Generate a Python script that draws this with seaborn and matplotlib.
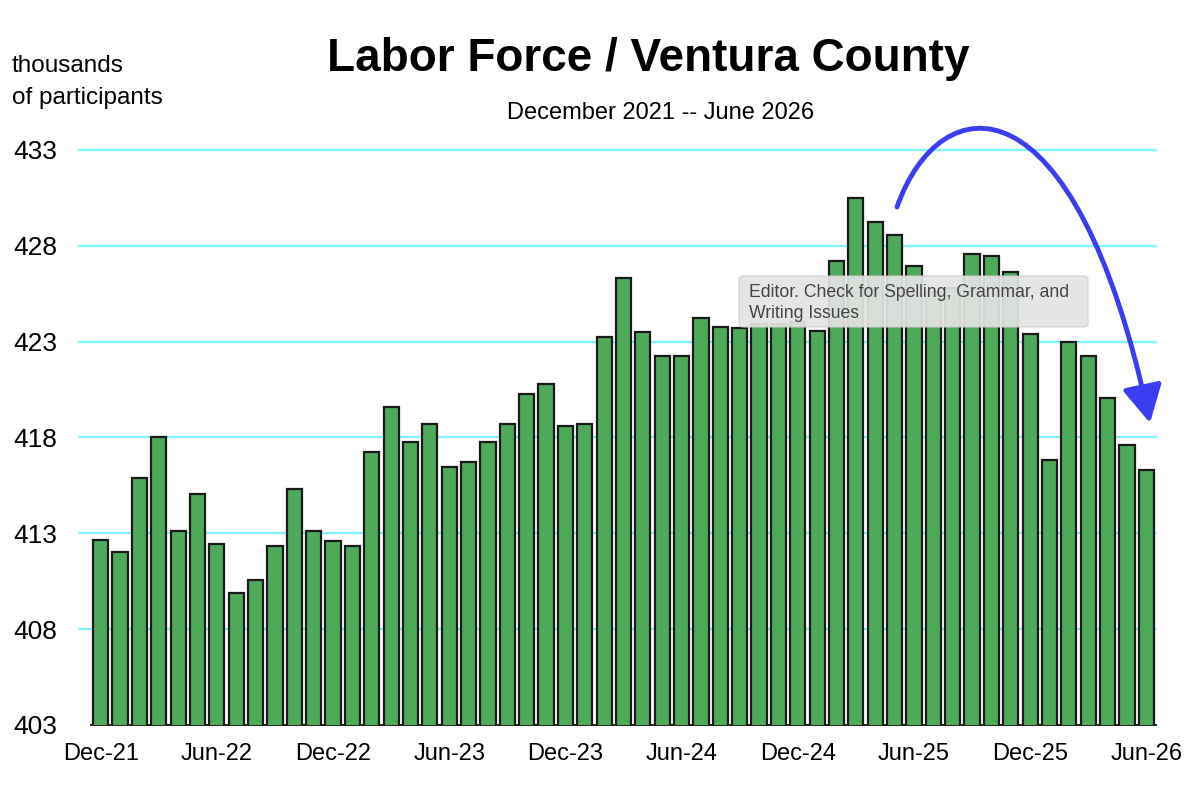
import numpy as np
import pandas as pd
import matplotlib.pyplot as plt
import seaborn as sb
from matplotlib.path import Path
from matplotlib.patches import FancyArrowPatch, FancyBboxPatch

# monthly labor force, thousands (Dec-21 .. Jun-26)
months = pd.date_range("2021-12-01", periods=55, freq="MS").strftime("%b-%y").tolist()
labor = [412.66, 412.0, 415.88, 418.0, 413.1, 415.03, 412.42, 409.9, 410.56, 412.33,
         415.3, 413.1, 412.58, 412.33, 417.25, 419.6, 417.74, 418.68, 416.47, 416.73,
         417.74, 418.68, 420.28, 420.79, 418.59, 418.68, 423.24, 426.3, 423.5, 422.23,
         422.23, 424.24, 423.74, 423.72, 423.9, 423.9, 424.0, 423.56, 427.2, 430.49,
         429.25, 428.56, 426.96, 425.6, 425.8, 427.55, 427.48, 426.6, 423.41, 416.82,
         422.99, 422.23, 420.05, 417.6, 416.32]
yticks = [403, 408, 413, 418, 423, 428, 433]

df = pd.DataFrame({"month": months, "labor": labor})

sb.set_style("white")
plt.rcParams['font.family'] = ['Liberation Sans Narrow', 'Liberation Sans', 'DejaVu Sans']
plt.rcParams['text.color'] = 'black'
plt.rcParams['xtick.color'] = 'black'
plt.rcParams['ytick.color'] = 'black'

W, H = 1200, 802
fig = plt.figure(figsize=(12, 8.02), dpi=100)
ax = fig.add_axes([91 / W, 1 - 725 / H, (1156 - 91) / W, (725 - 121) / H])

sb.barplot(data=df, x="month", y="labor", color="#4fa95a", saturation=1,
           edgecolor="#1a1a1a", linewidth=1.6, width=0.78, ax=ax, zorder=3)

ax.set_ylim(403, 434.5)
ax.set_xlim(-0.5, len(months) - 0.5)

# cyan grid lines, running a little past the left edge
for t in yticks[1:]:
    ax.plot([-0.011, 1.0], [t, t], transform=ax.get_yaxis_transform(),
            color="#7ff3fb", lw=1.6, zorder=1, clip_on=False)

ax.set_yticks(yticks)
ax.set_yticklabels([str(t) for t in yticks], fontsize=19)
ax.tick_params(axis="y", length=0, pad=24)

idx = list(range(0, len(months), 6))
ax.set_xticks(idx)
ax.set_xticklabels([months[i] for i in idx], fontsize=17)
ax.set_xticks(np.arange(-0.5, len(months)), minor=True)
ax.tick_params(axis="x", which="major", length=0, pad=13)
ax.tick_params(axis="x", which="minor", length=6, width=1.2, color="#222222", direction="out")
ax.set_xlabel("")
ax.set_ylabel("")

for s in ["top", "right", "left"]:
    ax.spines[s].set_visible(False)
ax.spines["bottom"].set_color("#222222")
ax.spines["bottom"].set_linewidth(1.4)

fig.text(648 / W, 1 - 71 / H, "Labor Force / Ventura County", ha="center", va="baseline",
         fontsize=33, fontweight="bold")
fig.text(661 / W, 1 - 119 / H, "December 2021 -- June 2026", ha="center", va="baseline",
         fontsize=17)
fig.text(12 / W, 1 - 72 / H, "thousands", ha="left", va="baseline", fontsize=17.5)
fig.text(12 / W, 1 - 104 / H, "of participants", ha="left", va="baseline", fontsize=17.5)

# tooltip left over from the screenshot
box = FancyBboxPatch((739 / W, 1 - 327 / H), 349 / W, 51 / H,
                     boxstyle="round,pad=0,rounding_size=0.004",
                     transform=fig.transFigure, fc="#e3e3e3", ec="#cfcfcf",
                     lw=0.8, alpha=0.93, zorder=10)
fig.patches.append(box)
fig.text(749 / W, 1 - 297 / H, "Editor. Check for Spelling, Grammar, and",
         family=["Liberation Sans", "DejaVu Sans"], fontsize=12.7, color="#444444",
         ha="left", va="baseline", zorder=11)
fig.text(749 / W, 1 - 318 / H, "Writing Issues",
         family=["Liberation Sans", "DejaVu Sans"], fontsize=12.7, color="#444444",
         ha="left", va="baseline", zorder=11)

# hand drawn arrow
pts = [(897, 207), (940, 85), (1075, 70), (1150, 423)]
path = Path([(x / W, 1 - y / H) for x, y in pts],
            [Path.MOVETO, Path.CURVE4, Path.CURVE4, Path.CURVE4])
arrow = FancyArrowPatch(path=path, arrowstyle="-|>,head_length=0.6,head_width=0.32",
                        mutation_scale=38, color="#3c3cf2", lw=3.5,
                        transform=fig.transFigure, zorder=12)
fig.patches.append(arrow)

plt.savefig("out.png", dpi=100)
